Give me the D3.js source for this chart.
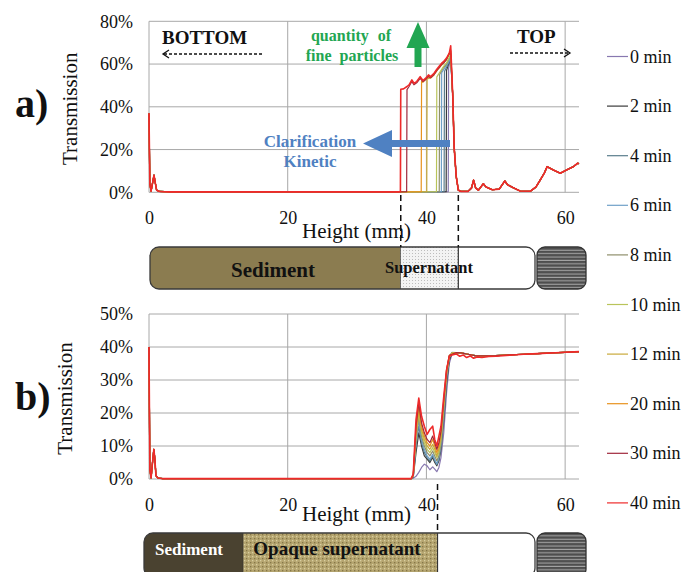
<!DOCTYPE html>
<html><head><meta charset="utf-8">
<script src="https://cdn.jsdelivr.net/npm/d3@7"></script>
<style>body{margin:0;background:#fff}svg{display:block}</style>
</head><body><svg id="c" width="681" height="572" style="font-family:'Liberation Serif','DejaVu Serif','Times New Roman',serif"></svg>
<script>
// ---------- DATA ----------
const times = ["0 min","2 min","4 min","6 min","8 min","10 min","12 min","20 min","30 min","40 min"];
const colors = ["#8878b0","#3a3a3a","#5a7d8c","#6fa0c8","#8f8f6a","#b9c45a","#c9a93a","#e8921e","#a0283c","#ee2a2a"];
const xTicks = [0,20,40,60];
const yTicksA = [0,0.2,0.4,0.6,0.8];
const yTicksB = [0,0.1,0.2,0.3,0.4,0.5];

// panel a: shared bottom part [height mm, transmission %]
const aBottom = [[0,37],[0.12,4],[0.3,0.5],[0.55,5],[0.72,8],[0.9,4.5],[1.1,1],[1.5,0.4],[3,0.2],[36,0.2]];
// panel a: per-series clarified zone (front to top of sample)
const aMiddle = [
  [[43.15,0.3],[43.2,58],[43.35,60.5],[43.5,62]],
  [[42.85,0.3],[42.9,57],[43.1,59],[43.3,61],[43.5,62.5]],
  [[42.55,0.3],[42.6,56.5],[42.9,58.5],[43.2,60.5],[43.5,63]],
  [[42.15,0.3],[42.2,56],[42.5,57.5],[42.9,59.5],[43.2,61],[43.5,63.5]],
  [[41.85,0.3],[41.9,55],[42.2,57],[42.5,58.5],[42.9,60],[43.2,62],[43.5,64]],
  [[41.45,0.3],[41.5,54],[41.9,56],[42.2,57.5],[42.5,59],[42.9,60.5],[43.2,62.5],[43.5,64.5]],
  [[40.05,0.3],[40.1,53],[40.6,53.5],[41.1,55],[41.5,56.8],[41.9,58.5],[42.2,59.5],[42.5,60.5],[42.9,62],[43.2,64],[43.5,65]],
  [[39.25,0.3],[39.3,52],[39.5,51.5],[39.9,52.8],[40.3,54],[40.6,53.5],[41.1,55],[41.5,57],[41.9,58.5],[42.2,59.8],[42.5,60.8],[42.9,62.3],[43.2,64.5],[43.5,66]],
  [[37.15,0.3],[37.2,48],[37.5,49.5],[37.9,51.8],[38.2,50.3],[38.6,51.2],[39.1,53.3],[39.5,51.8],[39.9,52.8],[40.3,54.2],[40.6,53.6],[41.1,55.1],[41.5,57],[41.9,58.6],[42.2,59.8],[42.5,60.6],[42.9,62.2],[43.2,64.4],[43.5,66.5]],
  [[36.25,0.3],[36.3,48.2],[36.7,48.4],[37.2,49.5],[37.5,50.3],[37.9,52.6],[38.2,51],[38.6,51.8],[39.1,54.1],[39.5,52.3],[39.9,53.4],[40.3,54.9],[40.6,54.1],[41.1,55.7],[41.5,57.6],[41.9,59.2],[42.2,60.4],[42.5,61.2],[42.9,62.8],[43.3,65.1],[43.5,68.5]]
];
// panel a: shared drop and upper (cream) part
const aTop = [[43.8,44.8],[44.0,21],[44.3,7.3],[44.6,1],[45,0.4],[46,0.4],[46.5,2],[46.8,5.7],[47.1,2],[47.5,1],[48.2,4],[48.6,2.5],[49.5,1.2],[50.5,1.5],[51.3,5.3],[51.7,3.5],[52.5,2.2],[53.5,0.6],[55,0.5],[55.8,2.5],[56.4,5.7],[57,9],[57.4,12],[58.3,10.4],[59.3,8.9],[60.2,10.4],[61.2,12],[61.8,13.6],[62,13.4]];

// panel b
const bBottom = [[0,40],[0.12,3],[0.3,0.3],[0.55,6],[0.7,9],[0.85,6],[1.0,1],[1.3,0.3],[2,0.1],[37.6,0.1]];
const hB = [37.8,38.1,38.5,38.9,39.3,39.7,40.1,40.5,40.9,41.2,41.5,41.8,42.1,42.5,42.9,43.3,43.7];
const bMiddle = [
  [0.1,0.2,0.8,2,3.5,4.5,4,2.8,3.7,3,2.2,3.5,6.5,14,26,35,38],
  [0.1,0.5,8,14,10,7,6,5,6.5,5,4,5.5,9,18,29,36,38.2],
  [0.1,0.6,10,16,11,8,6.5,5.5,7,5.5,4.5,6,10,19,30,36.5,38.3],
  [0.1,0.7,11,18,12,9,7,6,7.5,6,4.5,6.5,10.5,20,31,37,38.4],
  [0.1,0.8,12,19,13,10,8,7,8.5,7,5.5,7,11,21,31,37,38.3],
  [0.1,0.9,13,20,14,11,9,8,9.5,8,6.5,8,12,22,32,37,38.2],
  [0.1,1,14,21,15,12,10,9,10.5,9,7,9,13,23,32,37,38.1],
  [0.1,1,15,22,16,13,11,10,12,10,8,10,14,23,33,37.5,38],
  [0.1,1.2,16,23,17,14,12,11,13,11,9,11,14.5,24,33,37.5,37.8],
  [0.1,1.5,18,24.5,19,16,13.5,15,16,12,10,13,16,25,33,37.2,37.6]
];
const bPlateau = [[44.3,38.3],[45,38.2],[46,37.8],[47,37.4],[48,37.3],[50,37.4],[52,37.6],[54,37.8],[56,38],[58,38.2],[60,38.4],[62,38.6]];
const bPlateauLast = [[44.3,37.9],[44.8,37.2],[45.3,37.6],[45.8,36.8],[46.3,37.3],[46.8,36.6],[47.3,37],[48,36.8],[49,37.1],[50,37.2],[52,37.5],[54,37.8],[56,38],[58,38.2],[60,38.4],[62,38.6]];

// phase zones (mm) and markers
const zonesA = [{name:"Sediment",from:0,to:36.3},{name:"Supernatant",from:36.3,to:44.6}];
const zonesB = [{name:"Sediment",from:0,to:13.6},{name:"Opaque supernatant",from:13.6,to:41.6}];
const markersA = [36.3,44.6];
const markersB = [41.6];

// ---------- DRAW ----------
const FONT = "'Liberation Serif','DejaVu Serif','Times New Roman',serif";
const svg = d3.select("#c");
const x = d3.scaleLinear().domain([0,62]).range([149,579]);
const yA = d3.scaleLinear().domain([0,0.8]).range([192.3,21.3]);
const yB = d3.scaleLinear().domain([0,0.5]).range([479,314]);
const grid = "#a8a8a8";

const defs = svg.append("defs");
const pDots = defs.append("pattern").attr("id","dots").attr("width",3).attr("height",3).attr("patternUnits","userSpaceOnUse");
pDots.append("rect").attr("width",3).attr("height",3).attr("fill","#f3f3f3");
pDots.append("rect").attr("x",1).attr("y",1).attr("width",1).attr("height",1).attr("fill","#bdbdbd");
const pOp = defs.append("pattern").attr("id","opaque").attr("width",4).attr("height",4).attr("patternUnits","userSpaceOnUse");
pOp.append("rect").attr("width",4).attr("height",4).attr("fill","#b5a570");
pOp.append("rect").attr("x",0).attr("y",0).attr("width",1.3).attr("height",1.3).attr("fill","#d9cfa0");
pOp.append("rect").attr("x",2).attr("y",2).attr("width",1.3).attr("height",1.3).attr("fill","#857647");
const pStripe = defs.append("pattern").attr("id","stripe").attr("width",4).attr("height",3.4).attr("patternUnits","userSpaceOnUse");
pStripe.append("rect").attr("width",4).attr("height",3.4).attr("fill","#4e4e4e");
pStripe.append("rect").attr("y",1.5).attr("width",4).attr("height",1).attr("fill","#a9a9a9");

function txt(sel){ return sel.append("text").style("font-family",FONT); }

function panel(y, yTicks, series, label, labelY, titleY, transY) {
  const g = svg.append("g");
  const [y0] = y.range();
  const yTop = y(yTicks[yTicks.length-1]);
  g.selectAll(".hg").data(yTicks).join("line")
    .attr("x1",x(0)).attr("x2",x(62)).attr("y1",d=>y(d)).attr("y2",d=>y(d))
    .attr("stroke",grid).attr("stroke-width",1);
  g.selectAll(".vg").data(xTicks).join("line")
    .attr("x1",d=>x(d)).attr("x2",d=>x(d)).attr("y1",y0).attr("y2",yTop)
    .attr("stroke",grid).attr("stroke-width",1);
  const ax = g.append("g").attr("transform",`translate(${x(0)},0)`)
    .call(d3.axisLeft(y).tickValues(yTicks).tickFormat(d3.format(".0%")).tickSize(0).tickPadding(16));
  ax.select(".domain").remove();
  ax.attr("font-family",null);
  ax.selectAll("text").attr("font-size",18).attr("fill","#111").style("font-family",FONT);
  const bx = g.append("g").attr("transform",`translate(0,${y0})`)
    .call(d3.axisBottom(x).tickValues(xTicks).tickFormat(d3.format("d")).tickSize(0).tickPadding(19));
  bx.select(".domain").remove();
  bx.attr("font-family",null);
  bx.selectAll("text").attr("font-size",18).attr("fill","#111").style("font-family",FONT);
  const line = d3.line().x(d=>x(d[0])).y(d=>y(d[1]/100));
  series.forEach((s,i)=>{
    g.append("path").attr("d",line(s)).attr("fill","none").attr("stroke",colors[i])
      .attr("stroke-width", i===series.length-1?1.6:1.2).attr("stroke-linejoin","round");
  });
  txt(g).attr("x",302).attr("y",titleY).attr("font-size",21).attr("fill","#111").text("Height (mm)");
  txt(g).attr("transform",`translate(${transY},${(y0+yTop)/2+2}) rotate(-90)`)
    .attr("text-anchor","middle").attr("font-size",21).attr("fill","#111").text("Transmission");
  txt(g).attr("x",15).attr("y",labelY).attr("font-size",40).attr("font-weight","bold").attr("fill","#111").text(label);
}

const seriesA = times.map((t,i)=>aBottom.concat(aMiddle[i], aTop));
const seriesB = times.map((t,i)=>bBottom.concat(hB.map((h,j)=>[h,bMiddle[i][j]]), i===times.length-1?bPlateauLast:bPlateau));
panel(yA, yTicksA, seriesA, "a)", 117, 238, 77);
panel(yB, yTicksB, seriesB, "b)", 410, 521, 72);

// annotations panel a
function dashArrow(x1,x2,yy){
  svg.append("line").attr("x1",x1).attr("x2",x2).attr("y1",yy).attr("y2",yy)
    .attr("stroke","#111").attr("stroke-width",1.3).attr("stroke-dasharray","3,2");
  const dir = x2>x1?1:-1;
  svg.append("path").attr("d",`M${x2-dir*6},${yy-4}L${x2},${yy}L${x2-dir*6},${yy+4}`)
    .attr("fill","none").attr("stroke","#111").attr("stroke-width",1.3);
}
txt(svg).attr("x",162).attr("y",44).attr("font-size",19).attr("font-weight","bold").attr("fill","#111").text("BOTTOM");
dashArrow(262,163,54);
txt(svg).attr("x",517).attr("y",43).attr("font-size",19).attr("font-weight","bold").attr("fill","#111").text("TOP");
dashArrow(510,570,53);
const green="#22a652";
txt(svg).attr("x",351).attr("y",41).attr("text-anchor","middle").attr("font-size",16).attr("font-weight","bold").attr("fill",green).attr("word-spacing",5).text("quantity of");
txt(svg).attr("x",352).attr("y",61).attr("text-anchor","middle").attr("font-size",16).attr("font-weight","bold").attr("fill",green).attr("word-spacing",4).text("fine particles");
svg.append("path").attr("d","M414.5,67L414.5,48L406.5,48L418,22L429.5,48L421.5,48L421.5,67Z").attr("fill",green);
const blue="#4f81c2";
txt(svg).attr("x",310).attr("y",147).attr("text-anchor","middle").attr("font-size",17).attr("font-weight","bold").attr("fill",blue).text("Clarification");
txt(svg).attr("x",310).attr("y",167).attr("text-anchor","middle").attr("font-size",17).attr("font-weight","bold").attr("fill",blue).text("Kinetic");
svg.append("path").attr("d","M450,140L392,140L392,130L363,143.5L392,157L392,147L450,147Z").attr("fill",blue);

// phase bars
function bar(top, h, left, zones, fills, labels, markers, mTop, id){
  const right = 535;
  const cp = defs.append("clipPath").attr("id",id);
  cp.append("rect").attr("x",left).attr("y",top).attr("width",right-left).attr("height",h).attr("rx",9);
  svg.append("rect").attr("x",left).attr("y",top).attr("width",right-left).attr("height",h).attr("rx",9).attr("fill","#fff");
  const g = svg.append("g").attr("clip-path",`url(#${id})`);
  zones.forEach((z,i)=>{
    const a = i===0?left:x(z.from), b = x(z.to);
    g.append("rect").attr("x",a).attr("y",top).attr("width",b-a).attr("height",h).attr("fill",fills[i]);
    g.append("line").attr("x1",b).attr("x2",b).attr("y1",top).attr("y2",top+h).attr("stroke","#333").attr("stroke-width",1.2);
  });
  svg.append("rect").attr("x",left).attr("y",top).attr("width",right-left).attr("height",h).attr("rx",9)
    .attr("fill","none").attr("stroke","#3a3a3a").attr("stroke-width",1.3);
  svg.append("rect").attr("x",537).attr("y",top).attr("width",49).attr("height",h).attr("rx",8)
    .attr("fill","url(#stripe)").attr("stroke","#333").attr("stroke-width",1.3);
  labels.forEach(l=>txt(svg).attr("x",l.x).attr("y",l.y).attr("text-anchor","middle")
    .attr("font-size",l.size).attr("font-weight","bold").attr("fill",l.color).text(l.text));
  markers.forEach(m=>svg.append("line").attr("x1",x(m)).attr("x2",x(m)).attr("y1",mTop).attr("y2",top)
    .attr("stroke","#111").attr("stroke-width",1.5).attr("stroke-dasharray","6,4"));
}
bar(247, 42, 150, zonesA, ["#8b7c50","url(#dots)"],
  [{x:273,y:277,size:21,color:"#111",text:zonesA[0].name},{x:429,y:273,size:16.5,color:"#111",text:zonesA[1].name}],
  markersA, 195, "clipA");
bar(533, 44, 144, zonesB, ["#4a4230","url(#opaque)"],
  [{x:189,y:555,size:17,color:"#fff",text:zonesB[0].name},{x:337,y:555,size:19,color:"#111",text:zonesB[1].name}],
  markersB, 484, "clipB");

// legend
const lg = svg.append("g");
times.forEach((t,i)=>{
  const yy = 56.5 + i*49.6;
  lg.append("line").attr("x1",607).attr("x2",628).attr("y1",yy).attr("y2",yy).attr("stroke",colors[i]).attr("stroke-width",1.2);
  txt(lg).attr("x",630).attr("y",yy+6).attr("font-size",18).attr("fill","#111").text(t);
});
</script></body></html>
